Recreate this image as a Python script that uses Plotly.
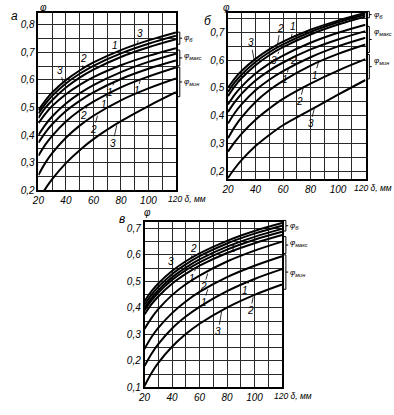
import plotly.graph_objects as go

# ---------------- data ----------------
delta = [20, 25, 30, 40, 50, 60, 80, 100, 120]          # δ, мм

x_ticks = [20, 30, 40, 50, 60, 70, 80, 90, 100, 110, 120]
x_labels = ["20", "", "40", "", "60", "", "80", "", "100", "", ""]

# panel а : curves listed top to bottom (φ_б, φ_макс, φ_мин groups)
a_b_1 = [0.490, 0.525, 0.554, 0.599, 0.634, 0.663, 0.708, 0.743, 0.772]
a_b_2 = [0.478, 0.513, 0.542, 0.587, 0.622, 0.651, 0.696, 0.731, 0.760]
a_b_3 = [0.462, 0.498, 0.526, 0.572, 0.608, 0.637, 0.683, 0.718, 0.747]
a_max_1 = [0.443, 0.477, 0.505, 0.548, 0.582, 0.610, 0.653, 0.687, 0.715]
a_max_2 = [0.400, 0.437, 0.467, 0.514, 0.551, 0.581, 0.628, 0.665, 0.695]
a_max_3 = [0.372, 0.409, 0.439, 0.487, 0.524, 0.555, 0.603, 0.640, 0.670]
a_min_1 = [0.325, 0.365, 0.397, 0.449, 0.489, 0.521, 0.573, 0.612, 0.645]
a_min_2 = [0.255, 0.299, 0.334, 0.390, 0.434, 0.470, 0.526, 0.569, 0.605]
a_min_3 = [0.165, 0.205, 0.240, 0.298, 0.345, 0.385, 0.450, 0.505, 0.555]

# panel б
b_b_1 = [0.500, 0.534, 0.561, 0.604, 0.638, 0.666, 0.709, 0.742, 0.770]
b_b_2 = [0.485, 0.520, 0.548, 0.593, 0.628, 0.656, 0.701, 0.736, 0.764]
b_b_3 = [0.470, 0.506, 0.535, 0.581, 0.617, 0.646, 0.692, 0.728, 0.757]
b_max_1 = [0.440, 0.476, 0.505, 0.551, 0.587, 0.616, 0.662, 0.698, 0.727]
b_max_2 = [0.413, 0.449, 0.479, 0.526, 0.562, 0.591, 0.638, 0.674, 0.704]
b_max_3 = [0.371, 0.410, 0.441, 0.491, 0.529, 0.560, 0.610, 0.649, 0.680]
b_min_1 = [0.318, 0.360, 0.394, 0.449, 0.491, 0.525, 0.580, 0.622, 0.656]
b_min_2 = [0.270, 0.305, 0.335, 0.385, 0.425, 0.460, 0.515, 0.562, 0.603]
b_min_3 = [0.175, 0.210, 0.240, 0.290, 0.330, 0.365, 0.420, 0.475, 0.528]

# panel в
c_b_1 = [0.425, 0.462, 0.492, 0.539, 0.576, 0.606, 0.653, 0.690, 0.720]
c_b_2 = [0.412, 0.449, 0.479, 0.527, 0.564, 0.595, 0.643, 0.680, 0.710]
c_b_3 = [0.400, 0.437, 0.467, 0.515, 0.552, 0.583, 0.631, 0.668, 0.698]
c_max_1 = [0.390, 0.427, 0.457, 0.505, 0.542, 0.572, 0.620, 0.657, 0.687]
c_max_2 = [0.375, 0.413, 0.443, 0.491, 0.528, 0.559, 0.607, 0.644, 0.675]
c_max_3 = [0.320, 0.361, 0.395, 0.448, 0.489, 0.522, 0.575, 0.616, 0.650]
c_min_1 = [0.245, 0.289, 0.324, 0.380, 0.424, 0.460, 0.516, 0.559, 0.595]
c_min_2 = [0.180, 0.226, 0.263, 0.322, 0.367, 0.404, 0.463, 0.509, 0.546]
c_min_3 = [0.105, 0.153, 0.192, 0.253, 0.301, 0.340, 0.401, 0.449, 0.488]

a_y_ticks = [0.2, 0.25, 0.3, 0.35, 0.4, 0.45, 0.5, 0.55, 0.6, 0.65, 0.7, 0.75, 0.8]
a_y_labels = ["0,2", "", "0,3", "", "0,4", "", "0,5", "", "0,6", "", "0,7", "", "0,8"]
b_y_ticks = [0.2, 0.25, 0.3, 0.35, 0.4, 0.45, 0.5, 0.55, 0.6, 0.65, 0.7, 0.75]
b_y_labels = ["0,2", "", "0,3", "", "0,4", "", "0,5", "", "0,6", "", "0,7", ""]
c_y_ticks = [0.1, 0.15, 0.2, 0.25, 0.3, 0.35, 0.4, 0.45, 0.5, 0.55, 0.6, 0.65, 0.7]
c_y_labels = ["0,1", "", "0,2", "", "0,3", "", "0,4", "", "0,5", "", "0,6", "", "0,7"]

# ---------------- geometry ----------------
W, H = 394, 415


def px(x):
    return x / W


def py(y):
    return 1 - y / H


FONT = "Liberation Sans"
TICKFONT = dict(family=FONT, size=10, color="black", style="italic")

panels = [
    dict(xa="x", ya="y",
         curves=[a_b_1, a_b_2, a_b_3, a_max_1, a_max_2, a_max_3, a_min_1, a_min_2, a_min_3],
         xdom=[px(32), px(172)], ydom=[py(193), py(13)],
         yr=[0.2, 0.843], yt=a_y_ticks, yl=a_y_labels, tshift=-10),
    dict(xa="x2", ya="y2",
         curves=[b_b_1, b_b_2, b_b_3, b_max_1, b_max_2, b_max_3, b_min_1, b_min_2, b_min_3],
         xdom=[px(225), px(365)], ydom=[py(182), py(13)],
         yr=[0.17, 0.77], yt=b_y_ticks, yl=b_y_labels, tshift=-14),
    dict(xa="x3", ya="y3",
         curves=[c_b_1, c_b_2, c_b_3, c_max_1, c_max_2, c_max_3, c_min_1, c_min_2, c_min_3],
         xdom=[px(140), px(280)], ydom=[py(393), py(225)],
         yr=[0.1, 0.725], yt=c_y_ticks, yl=c_y_labels, tshift=-10),
]

fig = go.Figure()
layout = dict(width=W, height=H, margin=dict(l=0, r=0, t=0, b=0),
              paper_bgcolor="white", plot_bgcolor="white", showlegend=False)
annotations = []
shapes = []

for p in panels:
    for ys in p["curves"]:
        fig.add_trace(go.Scatter(x=delta, y=ys, xaxis=p["xa"], yaxis=p["ya"], mode="lines",
                                 line=dict(color="black", width=2, shape="spline", smoothing=1.0),
                                 hoverinfo="skip"))
    xk = "xaxis" + p["xa"][1:]
    yk = "yaxis" + p["ya"][1:]
    layout[xk] = dict(domain=p["xdom"], anchor=p["ya"], range=[20, 120],
                      tickmode="array", tickvals=x_ticks, ticktext=x_labels, ticks="",
                      showline=True, linecolor="black", linewidth=1.5, mirror=True,
                      showgrid=True, gridcolor="#2a2a2a", gridwidth=1, zeroline=False,
                      tickfont=TICKFONT, fixedrange=True)
    layout[yk] = dict(domain=p["ydom"], anchor=p["xa"], range=p["yr"],
                      tickmode="array", tickvals=p["yt"], ticktext=p["yl"], ticks="",
                      showline=True, linecolor="black", linewidth=1.5, mirror=True,
                      showgrid=True, gridcolor="#2a2a2a", gridwidth=1, zeroline=False,
                      tickfont=TICKFONT, fixedrange=True)
    xr, yr = p["xa"], p["ya"]
    # last tick label together with the axis title
    annotations.append(dict(xref=xr + " domain", yref=yr + " domain", x=1.0, y=0,
                            xanchor="left", yanchor="top", xshift=p["tshift"], yshift=-2,
                            text="120 δ, мм", showarrow=False,
                            font=dict(family=FONT, size=8.5, color="black", style="italic")))

fig.update_layout(**layout)


def frac(v, rng):
    return (v - rng[0]) / (rng[1] - rng[0])


# brackets and group names at the right
bracket_defs = [
    (panels[0], [(0.729, 0.773, "φ<sub>б</sub>", 0.752),
                 (0.651, 0.708, "φ<sub>макс</sub>", 0.686),
                 (0.539, 0.646, "φ<sub>мин</sub>", 0.593)]),
    (panels[1], [(0.752, 0.775, "φ<sub>б</sub>", 0.762),
                 (0.627, 0.721, "φ<sub>макс</sub>", 0.700),
                 (0.532, 0.620, "φ<sub>мин</sub>", 0.596)]),
    (panels[2], [(0.690, 0.730, "φ<sub>б</sub>", 0.708),
                 (0.605, 0.669, "φ<sub>макс</sub>", 0.643),
                 (0.470, 0.600, "φ<sub>мин</sub>", 0.530)]),
]
for p, items in bracket_defs:
    xr, yr = p["xa"], p["ya"]
    for lo, hi, txt, ty in items:
        f1, f2 = frac(lo, p["yr"]), frac(hi, p["yr"])
        fm = (f1 + f2) / 2
        path = (f"M 1.005 {f2} L 1.028 {f2} L 1.028 {f1} L 1.005 {f1} "
                f"M 1.028 {fm} L 1.045 {fm}")
        shapes.append(dict(type="path", xref=xr + " domain", yref=yr + " domain",
                           path=path, line=dict(color="black", width=1)))
        annotations.append(dict(xref=xr + " domain", yref=yr, x=1.045, y=ty,
                                xanchor="left", yanchor="middle", text=txt, showarrow=False,
                                font=dict(family=FONT, size=8, style="italic", color="black")))

# curve numbers with short leader lines: (text, text x, text y, tip x, tip y)
curve_labels = [
    (panels[0], [("3", 35.5, 0.635, 38, 0.59), ("2", 53, 0.678, 52, 0.642),
                 ("1", 76, 0.725, 74, 0.698), ("3", 94, 0.768, 92, 0.735),
                 ("1", 72, 0.555, 75, 0.59), ("1", 68, 0.51, 70, 0.545),
                 ("1", 92, 0.56, 94, 0.598), ("2", 53, 0.47, 55, 0.5),
                 ("2", 60, 0.42, 63, 0.47), ("3", 74, 0.37, 77, 0.435)]),
    (panels[1], [("3", 36.7, 0.662, 39, 0.6), ("2", 58, 0.715, 56, 0.655),
                 ("1", 67.6, 0.72, 66, 0.68), ("3", 53.8, 0.597, 57, 0.63),
                 ("2", 67.6, 0.597, 70, 0.62), ("1", 61.7, 0.53, 64, 0.57),
                 ("1", 83, 0.545, 86, 0.595), ("2", 72, 0.45, 75, 0.505),
                 ("3", 80, 0.37, 83, 0.43)]),
    (panels[2], [("3", 39, 0.575, 41, 0.545), ("2", 55.7, 0.625, 54, 0.588),
                 ("1", 84, 0.625, 86, 0.66), ("1", 54.5, 0.512, 57, 0.546),
                 ("2", 63, 0.48, 66, 0.53), ("1", 63, 0.42, 66, 0.47),
                 ("1", 93, 0.465, 96, 0.5), ("2", 97, 0.39, 99, 0.44),
                 ("3", 73.6, 0.31, 76, 0.385)]),
]
for p, items in curve_labels:
    xr, yr = p["xa"], p["ya"]
    for t, tx, ty, px_, py_ in items:
        annotations.append(dict(xref=xr, yref=yr, axref=xr, ayref=yr, x=px_, y=py_, ax=tx, ay=ty,
                                text=t, showarrow=True, arrowhead=0, arrowwidth=0.8,
                                arrowcolor="black", standoff=0,
                                font=dict(family=FONT, size=10, style="italic", color="black")))

# panel letters and φ symbols (reference pixel positions)
for txt, x, y in [("а", 8, 16), ("б", 205, 21), ("в", 117, 222)]:
    annotations.append(dict(xref="paper", yref="paper", x=px(x), y=py(y),
                            xanchor="center", yanchor="middle", text=txt, showarrow=False,
                            font=dict(family=FONT, size=12, style="italic", color="black")))
for x, y in [(37, 8), (223, 8), (143, 216)]:
    annotations.append(dict(xref="paper", yref="paper", x=px(x), y=py(y),
                            xanchor="center", yanchor="middle", text="φ", showarrow=False,
                            font=dict(family=FONT, size=10, style="italic", color="black")))

fig.update_layout(annotations=annotations, shapes=shapes)
fig.write_html("out.html", config={"displayModeBar": False},
               post_script="document.body.style.margin='0px';")
